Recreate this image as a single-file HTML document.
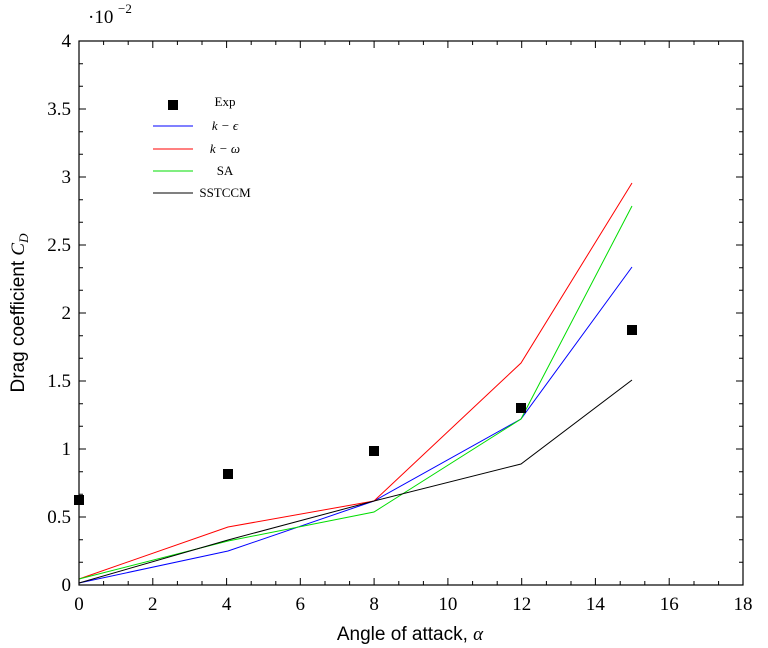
<!DOCTYPE html>
<html><head><style>body{margin:0;background:#fff}svg{display:block}text{font-family:"Liberation Serif",serif}</style></head>
<body>
<svg width="768" height="648" viewBox="0 0 768 648" xmlns="http://www.w3.org/2000/svg">
<g stroke="#000" stroke-width="1">
<!-- minor ticks -->
<path d="M103.6 585v-4M128.2 585v-4M177.4 585v-4M202 585v-4M251.2 585v-4M275.8 585v-4M325 585v-4M349.6 585v-4M398.8 585v-4M423.4 585v-4M472.6 585v-4M497.2 585v-4M546.4 585v-4M571 585v-4M620.2 585v-4M644.8 585v-4M694 585v-4M718.6 585v-4
M103.6 41v4M128.2 41v4M177.4 41v4M202 41v4M251.2 41v4M275.8 41v4M325 41v4M349.6 41v4M398.8 41v4M423.4 41v4M472.6 41v4M497.2 41v4M546.4 41v4M571 41v4M620.2 41v4M644.8 41v4M694 41v4M718.6 41v4"/>
<path d="M79 562.3h4M79 539.7h4M79 494.3h4M79 471.7h4M79 426.3h4M79 403.7h4M79 358.3h4M79 335.7h4M79 290.3h4M79 267.7h4M79 222.3h4M79 199.7h4M79 154.3h4M79 131.7h4M79 86.3h4M79 63.7h4
M743 562.3h-4M743 539.7h-4M743 494.3h-4M743 471.7h-4M743 426.3h-4M743 403.7h-4M743 358.3h-4M743 335.7h-4M743 290.3h-4M743 267.7h-4M743 222.3h-4M743 199.7h-4M743 154.3h-4M743 131.7h-4M743 86.3h-4M743 63.7h-4"/>
<!-- major ticks -->
<path d="M152.8 585v-7M226.6 585v-7M300.3 585v-7M374.1 585v-7M447.9 585v-7M521.7 585v-7M595.4 585v-7M669.2 585v-7
M152.8 41v7M226.6 41v7M300.3 41v7M374.1 41v7M447.9 41v7M521.7 41v7M595.4 41v7M669.2 41v7"/>
<path d="M79 517h7M79 449h7M79 381h7M79 313h7M79 245h7M79 177h7M79 109h7
M743 517h-7M743 449h-7M743 381h-7M743 313h-7M743 245h-7M743 177h-7M743 109h-7"/>
</g>
<g fill="none" stroke-width="1">
<polyline stroke="#00f" points="79,583 228,551 374,501 521,419 632,267"/>
<polyline stroke="#f00" points="79,579 228,527 374,501 521,363 632,183"/>
<polyline stroke="#0d0" points="79,579 228,541 374,512 521,419 632,206"/>
<polyline stroke="#000" points="79,583 228,540 374,501 521,464 632,380"/>
</g>
<g fill="#000">
<rect x="74" y="495" width="10" height="10"/><rect x="223" y="469" width="10" height="10"/><rect x="369" y="446" width="10" height="10"/><rect x="516" y="403" width="10" height="10"/><rect x="627" y="325" width="10" height="10"/>
</g>
<rect x="79" y="41" width="664" height="544" fill="none" stroke="#000" stroke-width="1.2"/>
<g font-size="19" text-anchor="middle">
<text x="79" y="610">0</text><text x="152.8" y="610">2</text><text x="226.6" y="610">4</text><text x="300.3" y="610">6</text><text x="374.1" y="610">8</text><text x="447.9" y="610">10</text><text x="521.7" y="610">12</text><text x="595.4" y="610">14</text><text x="669.2" y="610">16</text><text x="743" y="610">18</text>
</g>
<g font-size="19" text-anchor="end">
<text x="71" y="591">0</text><text x="71" y="523">0.5</text><text x="71" y="455">1</text><text x="71" y="387">1.5</text><text x="71" y="319">2</text><text x="71" y="251">2.5</text><text x="71" y="183">3</text><text x="71" y="115">3.5</text><text x="71" y="47">4</text>
</g>
<text x="88" y="23" font-size="19">·10</text><text x="118" y="13" font-size="13">−2</text>
<text x="410" y="640" font-size="19" text-anchor="middle" style="font-family:'Liberation Sans',sans-serif">Angle of attack, <tspan font-family="Liberation Serif" font-style="italic">α</tspan></text>
<text transform="translate(24,313) rotate(-90)" font-size="19" text-anchor="middle" style="font-family:'Liberation Sans',sans-serif">Drag coefficient <tspan font-family="Liberation Serif" font-style="italic">C</tspan><tspan font-family="Liberation Serif" font-style="italic" font-size="13" dy="4">D</tspan></text>
<!-- legend -->
<rect x="168" y="100" width="10" height="10" fill="#000"/>
<g stroke-width="1">
<line x1="153" y1="126" x2="193" y2="126" stroke="#00f"/>
<line x1="153" y1="149" x2="193" y2="149" stroke="#f00"/>
<line x1="153" y1="171" x2="193" y2="171" stroke="#0d0"/>
<line x1="153" y1="193" x2="193" y2="193" stroke="#000"/>
</g>
<g font-size="13" text-anchor="middle">
<text x="225" y="106">Exp</text>
<text x="225" y="130" font-style="italic">k − ϵ</text>
<text x="225" y="153" font-style="italic">k − ω</text>
<text x="225" y="175">SA</text>
<text x="225" y="197">SSTCCM</text>
</g>
</svg>
</body></html>
